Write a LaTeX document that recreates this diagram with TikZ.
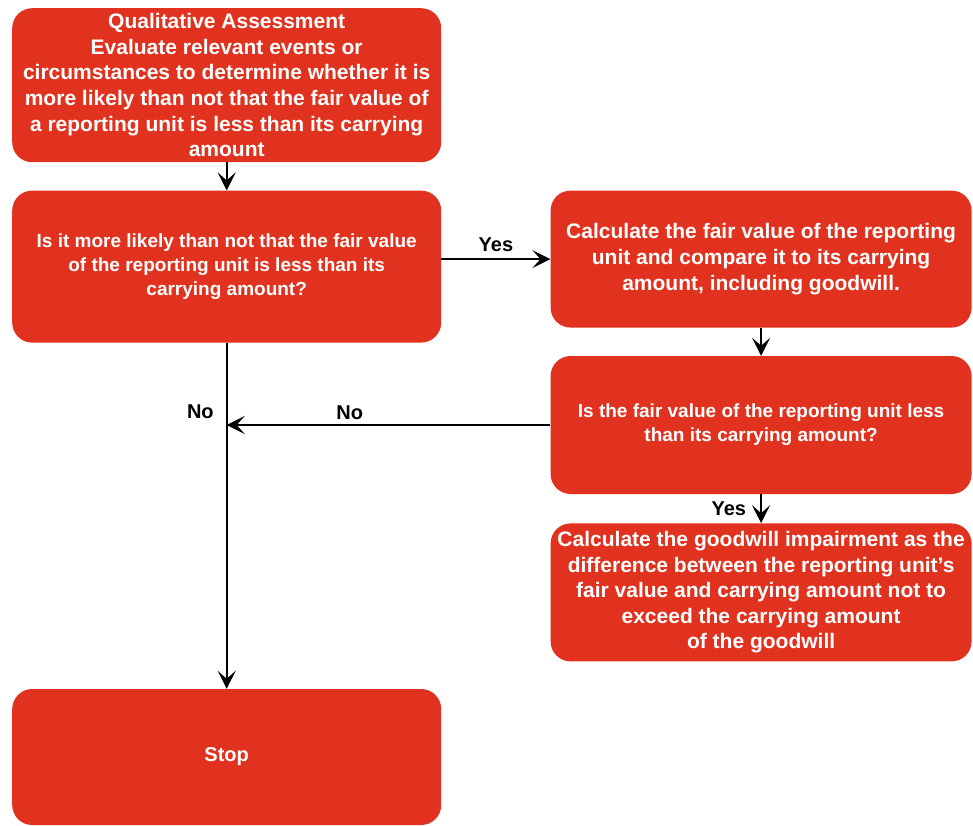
\documentclass[tikz,border=0pt]{standalone}
\usepackage{fontspec}
\setmainfont{Liberation Sans}
\usetikzlibrary{arrows.meta, positioning}
\definecolor{boxred}{RGB}{224,50,30}

\begin{document}
\begin{tikzpicture}[x=1pt, y=-1pt, node distance=28pt,
    box/.style={rectangle, rounded corners=20pt, fill=boxred, text=white, align=center, inner sep=0pt, minimum width=429pt},
    big/.style={font=\fontsize{21}{25.6}\selectfont\bfseries},
    small/.style={font=\fontsize{19}{24}\selectfont\bfseries},
    lbl/.style={font=\fontsize{20}{24}\selectfont\bfseries, inner sep=2pt},
    flow/.style={line width=2pt, -{Stealth[length=18pt, width=18pt, inset=8pt]}}]
                \useasboundingbox (0,0) rectangle (973,825);
                \node[box, big, minimum height=154pt, anchor=north west] (qa) at (12,8) {Qualitative Assessment\\ Evaluate relevant events or\\ circumstances to determine whether it is\\ more likely than not that the fair value of\\ a reporting unit is less than its carrying\\ amount};
                \node[box, small, minimum height=152pt, below=28pt of qa] (likely) {Is it more likely than not that the fair value\\ of the reporting unit is less than its\\ carrying amount?};
                \node[box, big, minimum width=421pt, minimum height=137pt, right=109pt of likely.north east, anchor=north west] (calc) {Calculate the fair value of the reporting\\ unit and compare it to its carrying\\ amount, including goodwill.};
                \node[box, small, minimum width=421pt, minimum height=138pt, below=of calc] (less) {Is the fair value of the reporting unit less\\ than its carrying amount?};
                \node[box, big, minimum width=421pt, minimum height=138pt, below=29pt of less] (impair) {Calculate the goodwill impairment as the\\ difference between the reporting unit’s\\ fair value and carrying amount not to\\ exceed the carrying amount\\ of the goodwill};
                \node[box, lbl, text=white, inner sep=0pt, minimum height=136pt, below=346pt of likely] (stop) {Stop};
                \coordinate (join) at (likely.south |- less.west);
                \draw[flow] (qa) -- (likely);
                \draw[flow] (likely.east |- calc.west) -- node[lbl, above=4pt] {Yes} (calc.west);
                \draw[flow] (calc) -- (less);
                \draw[flow] (less) -- node[lbl, left=12pt] {Yes} (impair);
                \draw[flow] (less.west) -- node[lbl, above=2pt, pos=0.62] {No} (join);
                \draw[flow] (likely) -- node[lbl, left=10pt, pos=0.2] {No} (stop);
            \end{tikzpicture}
\end{document}
